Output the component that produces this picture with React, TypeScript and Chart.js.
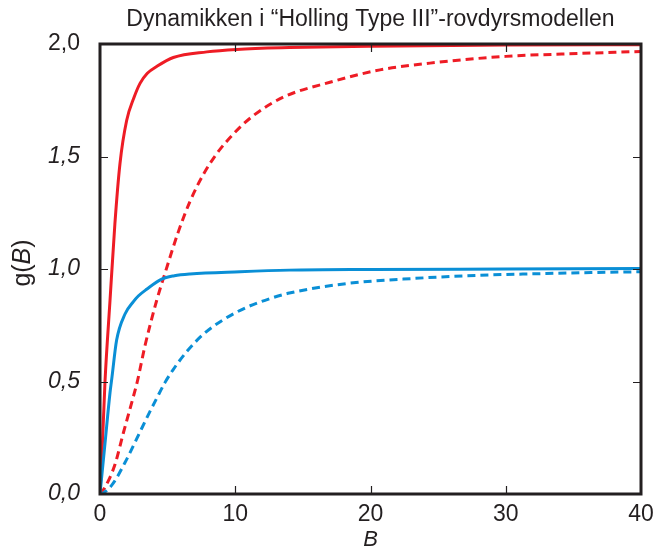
import React, { useEffect, useRef } from "react";
import { Chart, registerables } from "chart.js";
Chart.register(...registerables);

const TITLE = "Dynamikken i “Holling Type III”-rovdyrsmodellen";
const X_TITLE = "B";
const Y_TITLE_PARTS = ["g(", "B", ")"];
const X_TICK_VALUES = [0, 10, 20, 30, 40];
const Y_TICK_VALUES = [0, 0.5, 1, 1.5, 2];

const blueSolidX = [0, 0.37, 0.74, 0.86, 1.23, 1.85, 2.47, 2.83, 3.45, 4.56, 5.5, 6.65, 10.35, 14, 20, 30, 40];
const blueSolidY = [0, 0.225, 0.45, 0.507, 0.684, 0.8, 0.855, 0.88, 0.91, 0.955, 0.97, 0.978, 0.988, 0.995, 0.998, 1.0, 1.002];

const blueDashX = [0, 0.25, 0.98, 1.85, 2.71, 3.57, 4.19, 4.8, 5.4, 6.4, 7.64, 9.1, 10.85, 12.6, 14, 18.2, 23.2, 28.1, 33, 40];
const blueDashY = [0, 0.004, 0.048, 0.14, 0.245, 0.352, 0.425, 0.495, 0.552, 0.632, 0.71, 0.774, 0.83, 0.869, 0.893, 0.935, 0.958, 0.972, 0.98, 0.988];

const redSolidX = [0, 0.15, 0.37, 0.74, 1.1, 1.48, 1.97, 2.5, 2.96, 3.5, 4.19, 5.42, 7.9, 10.1, 14, 20, 30, 40];
const redSolidY = [0, 0.18, 0.5, 0.86, 1.2, 1.47, 1.66, 1.76, 1.825, 1.87, 1.9, 1.94, 1.965, 1.976, 1.984, 1.99, 1.995, 1.997];

const redDashX = [0, 0.37, 1.1, 1.72, 2.34, 2.76, 3.33, 4.19, 4.8, 5.79, 6.65, 7.64, 8.6, 9.86, 11.3, 13.6, 17, 20.7, 24.4, 30, 35.5, 40];
const redDashY = [0, 0.03, 0.13, 0.27, 0.405, 0.5, 0.66, 0.86, 0.98, 1.165, 1.3, 1.42, 1.51, 1.6, 1.68, 1.765, 1.83, 1.885, 1.915, 1.945, 1.958, 1.967];

const RED = "#ee1c25";
const BLUE = "#0a8fd6";
const INK = "#231f20";
const FONT = "'Liberation Sans', Arial, sans-serif";

const toPoints = (xs: number[], ys: number[]) => xs.map((x, i) => ({ x, y: ys[i] }));

const framePlugin = {
  id: "frame",
  afterDatasetsDraw(chart: any) {
    const { ctx, chartArea: a, scales } = chart;
    const xs = scales.x;
    const ys = scales.y;
    ctx.save();
    ctx.strokeStyle = INK;
    ctx.lineWidth = 1.2;
    const tl = 8;
    X_TICK_VALUES.slice(1, -1).forEach((v) => {
      const px = Math.round(xs.getPixelForValue(v)) + 0.5;
      ctx.beginPath();
      ctx.moveTo(px, a.bottom);
      ctx.lineTo(px, a.bottom - tl);
      ctx.moveTo(px, a.top);
      ctx.lineTo(px, a.top + tl);
      ctx.stroke();
    });
    Y_TICK_VALUES.slice(1, -1).forEach((v) => {
      const py = Math.round(ys.getPixelForValue(v)) + 0.5;
      ctx.beginPath();
      ctx.moveTo(a.left, py);
      ctx.lineTo(a.left + tl, py);
      ctx.moveTo(a.right, py);
      ctx.lineTo(a.right - tl, py);
      ctx.stroke();
    });
    ctx.lineWidth = 3;
    ctx.strokeRect(a.left, a.top, a.right - a.left, a.bottom - a.top);

    // title
    ctx.fillStyle = INK;
    ctx.font = `23px ${FONT}`;
    ctx.textAlign = "center";
    ctx.textBaseline = "middle";
    ctx.fillText(TITLE, (a.left + a.right) / 2, 20);

    // x title
    ctx.font = `italic 22px ${FONT}`;
    ctx.fillText(X_TITLE, (a.left + a.right) / 2, 540);

    // y title (mixed styles)
    ctx.save();
    ctx.translate(23, 263);
    ctx.rotate(-Math.PI / 2);
    ctx.textAlign = "left";
    const fonts = [`25px ${FONT}`, `italic 25px ${FONT}`, `25px ${FONT}`];
    let total = 0;
    const widths = Y_TITLE_PARTS.map((t, i) => {
      ctx.font = fonts[i];
      const w = ctx.measureText(t).width;
      total += w;
      return w;
    });
    let xx = -total / 2;
    Y_TITLE_PARTS.forEach((t, i) => {
      ctx.font = fonts[i];
      ctx.fillText(t, xx, 0);
      xx += widths[i];
    });
    ctx.restore();
    ctx.restore();
  },
};

export default function App() {
  const ref = useRef<HTMLCanvasElement | null>(null);
  useEffect(() => {
    document.body.style.margin = "0";
    const canvas = ref.current;
    if (!canvas) return;
    const chart = new Chart(canvas, {
      type: "line",
      data: {
        datasets: [
          { data: toPoints(blueDashX, blueDashY), borderColor: BLUE, borderDash: [8, 5] },
          { data: toPoints(blueSolidX, blueSolidY), borderColor: BLUE },
          { data: toPoints(redDashX, redDashY), borderColor: RED, borderDash: [8, 5] },
          { data: toPoints(redSolidX, redSolidY), borderColor: RED },
        ].map((d) => ({
          ...d,
          borderWidth: 3,
          pointRadius: 0,
          fill: false,
          cubicInterpolationMode: "monotone" as const,
        })),
      },
      options: {
        responsive: false,
        animation: false,
        layout: { padding: { left: 0, right: 13, top: 44, bottom: 0 } },
        plugins: { legend: { display: false }, tooltip: { enabled: false }, title: { display: false } },
        scales: {
          x: {
            type: "linear",
            min: 0,
            max: 40,
            afterFit: (s: any) => {
              s.height = 55;
              s.paddingRight = 0;
              s.paddingLeft = 0;
            },
            afterBuildTicks: (s: any) => {
              s.ticks = X_TICK_VALUES.map((v) => ({ value: v }));
            },
            grid: { display: false, drawTicks: false },
            border: { display: false },
            ticks: {
              padding: 7,
              color: INK,
              font: { family: FONT, size: 23 },
              maxRotation: 0,
              callback: (v: any) => String(v),
            },
          },
          y: {
            type: "linear",
            min: 0,
            max: 2,
            afterFit: (s: any) => {
              s.width = 100;
              s.paddingTop = 0;
              s.paddingBottom = 0;
            },
            afterBuildTicks: (s: any) => {
              s.ticks = Y_TICK_VALUES.map((v) => ({ value: v }));
            },
            grid: { display: false, drawTicks: false },
            border: { display: false },
            ticks: {
              padding: 20,
              color: INK,
              font: (c: any) => ({
                family: FONT,
                size: 23,
                style: c.tick && c.tick.value === 2 ? "normal" : "italic",
              }),
              callback: (v: any) => Number(v).toFixed(1).replace(".", ","),
            },
          },
        },
      },
      plugins: [framePlugin],
    });
    return () => chart.destroy();
  }, []);
  return (
    <div style={{ width: 654, height: 549 }}>
      <canvas ref={ref} width={654} height={549} />
    </div>
  );
}
